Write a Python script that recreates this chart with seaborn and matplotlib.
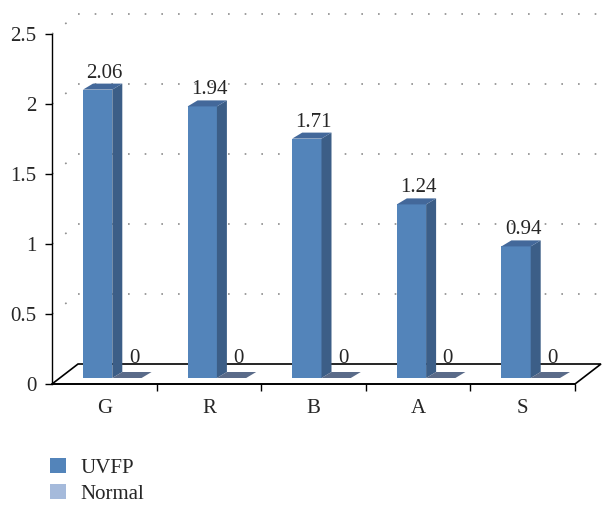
import numpy as np
import pandas as pd
import matplotlib
matplotlib.use("Agg")
import matplotlib.pyplot as plt
from matplotlib.patches import Polygon, Patch
from matplotlib.transforms import IdentityTransform, ScaledTranslation
import seaborn as sns

channels = ["G", "R", "B", "A", "S"]
groups = ["UVFP", "Normal"]
uvfp = [2.06, 1.94, 1.71, 1.24, 0.94]
normal = [0, 0, 0, 0, 0]
y_ticks = [0, 0.5, 1, 1.5, 2, 2.5]
y_tick_labels = ["0", "0.5", "1", "1.5", "2", "2.5"]

front_colors = {"UVFP": "#5384BA", "Normal": "#A5BADB"}
side_colors = {"UVFP": "#3C5E87", "Normal": "#6E84A8"}
top_colors = {"UVFP": "#43689A", "Normal": "#5A6B89"}

df = pd.DataFrame({
    "channel": channels * 2,
    "value": uvfp + normal,
    "group": ["UVFP"] * len(channels) + ["Normal"] * len(channels),
})
values = {"UVFP": uvfp, "Normal": normal}

sns.set_style("white")
plt.rcParams["font.family"] = ["Liberation Serif", "DejaVu Serif"]
FS = 15

W, H, DPI = 613, 517, 100
fig = plt.figure(figsize=(W / DPI, H / DPI), dpi=DPI)
ax = fig.add_axes([52 / W, (H - 384) / H, 523 / W, 350 / H])

sns.barplot(data=df, x="channel", y="value", hue="group", hue_order=groups,
            palette=front_colors, width=0.56, saturation=1, errorbar=None,
            legend=False, linewidth=0, zorder=3, ax=ax)
ax.set_xlim(-0.5, len(channels) - 0.5)
ax.set_ylim(0, 2.5)
ax.set_xlabel("")
ax.set_ylabel("")

# pixel offsets for the fake 3d look
floor_d = np.array([26, 20])
bar_shift = np.array([8, 6])
bar_d = np.array([10, 6])


def shift(d):
    return ScaledTranslation(d[0] / DPI, d[1] / DPI, fig.dpi_scale_trans)


def to_px(x, y):
    return ax.transData.transform((x, y))


x_lo, x_hi = ax.get_xlim()

# dotted gridlines on the back wall
grid_kw = dict(color="#8C8C8C", lw=1.2, ls=(0, (1, 9)), clip_on=False, zorder=1)
for v in y_ticks[1:]:
    ax.plot([x_lo, x_hi], [v, v], transform=ax.transData + shift(floor_d), **grid_kw)
    p = to_px(x_lo, v)
    ax.plot([p[0], p[0] + floor_d[0]], [p[1], p[1] + floor_d[1]],
            transform=IdentityTransform(), **grid_kw)

# floor
f0, f1 = to_px(x_lo, 0), to_px(x_hi, 0)
floor = Polygon([f0, f1, f1 + floor_d, f0 + floor_d], closed=True,
                facecolor="white", edgecolor="black", lw=1.2,
                transform=IdentityTransform(), clip_on=False, zorder=2)
ax.add_patch(floor)

# bars: move front faces back a little and add side and top faces
for cont, g in zip(ax.containers, groups):
    for patch, val in zip(cont, values[g]):
        patch.set_transform(ax.transData + shift(bar_shift))
        patch.set_clip_on(False)
        x0 = patch.get_x()
        x1 = x0 + patch.get_width()
        h = patch.get_height()
        tl = to_px(x0, h) + bar_shift
        tr = to_px(x1, h) + bar_shift
        br = to_px(x1, 0) + bar_shift
        if h > 0:
            ax.add_patch(Polygon([br, br + bar_d, tr + bar_d, tr], closed=True,
                                 facecolor=side_colors[g], lw=0,
                                 transform=IdentityTransform(), clip_on=False, zorder=3.5))
            lift = 6
        else:
            lift = 9
        ax.add_patch(Polygon([tl, tr, tr + bar_d, tl + bar_d], closed=True,
                             facecolor=top_colors[g], lw=0,
                             transform=IdentityTransform(), clip_on=False, zorder=3.5))
        cx = x0 + patch.get_width() / 2
        ax.annotate(f"{val:g}", xy=(cx, h),
                    xytext=(bar_shift[0] + bar_d[0] / 2 + 2, bar_shift[1] + bar_d[1] + lift),
                    textcoords="offset pixels", ha="center", va="baseline",
                    fontsize=FS, zorder=5)

# axes styling
for side in ["top", "right"]:
    ax.spines[side].set_visible(False)
ax.spines["left"].set_color("black")
ax.spines["left"].set_linewidth(1.0)
ax.spines["bottom"].set_color("black")
ax.spines["bottom"].set_linewidth(1.2)
ax.spines["bottom"].set_zorder(2.5)

ax.set_yticks(y_ticks, y_tick_labels)
ax.tick_params(axis="y", left=True, length=5, width=1, direction="out",
               pad=6, labelsize=FS, color="black")
ax.set_xticks(range(len(channels)), channels)
ax.set_xticks(np.arange(0.5, len(channels), 1), minor=True)
ax.tick_params(axis="x", which="major", length=0, pad=11, labelsize=FS)
ax.tick_params(axis="x", which="minor", bottom=True, length=5, width=1,
               direction="out", color="black")

handles = [Patch(facecolor=front_colors[g], edgecolor="none") for g in groups]
fig.legend(handles, groups, loc="upper left", bbox_to_anchor=(50 / W, 1 - 458 / H),
           frameon=False, fontsize=FS, handlelength=0.75, handleheight=0.75,
           handletextpad=0.7, labelspacing=0.3, borderaxespad=0, borderpad=0)

fig.savefig("out.png", dpi=DPI, facecolor="white")
